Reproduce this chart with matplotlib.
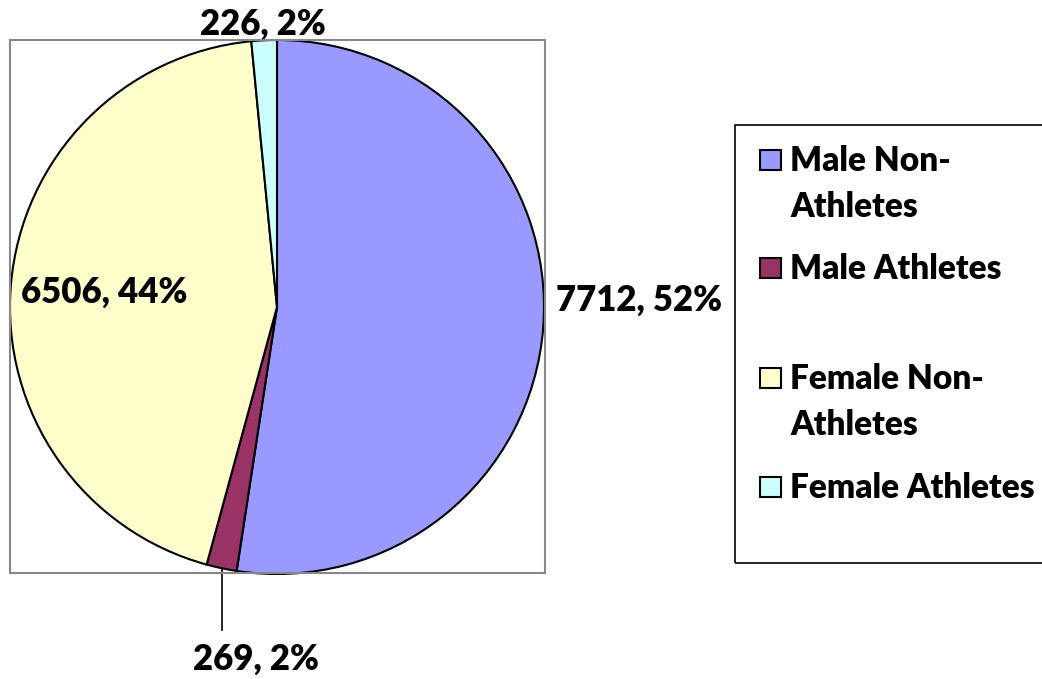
import numpy as np
import matplotlib.pyplot as plt
from matplotlib.patches import Rectangle

plt.rcParams['font.family'] = ['Lato', 'DejaVu Sans']

groups = ['Male Non-\nAthletes', 'Male Athletes', 'Female Non-\nAthletes', 'Female Athletes']
counts = [7712, 269, 6506, 226]
colors = ['#9999FF', '#993366', '#FFFFCC', '#CCFFFF']

W, H = 1042, 679
fig = plt.figure(figsize=(W / 100, H / 100), dpi=100)

# plot area frame
fig.patches.append(Rectangle((10 / W, 1 - 573 / H), 535 / W, 533 / H,
                             transform=fig.transFigure, fill=False,
                             edgecolor='#888888', linewidth=1.5))

ax = fig.add_axes([10 / W, 1 - 574 / H, 534 / W, 534 / H])
wedges, _ = ax.pie(counts, colors=colors, startangle=90, counterclock=False,
                   wedgeprops=dict(edgecolor='black', linewidth=1.5))
ax.set_xlim(-1, 1)
ax.set_ylim(-1, 1)
ax.set_aspect('equal')
ax.axis('off')

total = sum(counts)
label_r = [1.36, None, 0.65, 1.06]
label_dy = [0.13, 0, 0, 0]
fs = 25
fw = 'heavy'
for i, w in enumerate(wedges):
    mid = np.deg2rad((w.theta1 + w.theta2) / 2)
    txt = f'{counts[i]}, {round(counts[i] / total * 100)}%'
    if label_r[i] is None:
        x0, y0 = np.cos(mid), np.sin(mid)
        ax.plot([x0, x0], [y0, -1.21], color='black', lw=1.2, clip_on=False)
        ax.text(x0 + 0.13, -1.32, txt, ha='center', va='center', fontsize=fs,
                fontweight=fw, clip_on=False)
    else:
        r = label_r[i]
        ax.text(r * np.cos(mid), r * np.sin(mid) + label_dy[i], txt, ha='center',
                va='center', fontsize=fs, fontweight=fw, clip_on=False)

# legend box
fig.patches.append(Rectangle((735 / W, 1 - 563 / H), 310 / W, 438 / H,
                             transform=fig.transFigure, fill=False,
                             edgecolor='black', linewidth=1.2))
leg_y = [160, 268, 378, 487]
for lab, c, y in zip(groups, colors, leg_y):
    fig.patches.append(Rectangle((760 / W, 1 - (y + 10) / H), 21 / W, 20 / H,
                                 transform=fig.transFigure, facecolor=c,
                                 edgecolor='black', linewidth=1.5))
    fig.text(790 / W, 1 - (y - 15) / H, lab, ha='left', va='top', fontsize=24,
             fontweight=fw, linespacing=1.55)

fig.savefig('out.png', dpi=100)
